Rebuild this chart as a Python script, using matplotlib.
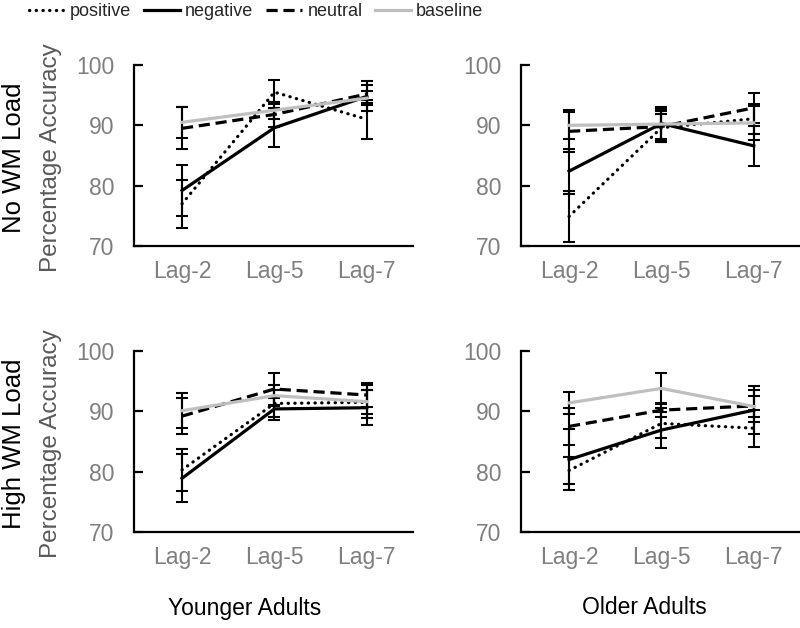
import matplotlib
matplotlib.use("Agg")
import matplotlib.pyplot as plt
from matplotlib.lines import Line2D

# categories and series (percentage accuracy)
lags = ["Lag-2", "Lag-5", "Lag-7"]
series_names = ["positive", "negative", "neutral", "baseline"]

# younger adults, no WM load
young_noload_mean = {
    "positive": [77.0, 95.5, 91.0],
    "negative": [79.2, 89.6, 94.8],
    "neutral": [89.5, 91.8, 95.2],
    "baseline": [90.5, 92.5, 94.5],
}
young_noload_err = {
    "positive": [4.0, 2.0, 3.2],
    "negative": [4.3, 3.2, 2.5],
    "neutral": [3.5, 2.0, 1.5],
    "baseline": [2.6, 1.4, 1.2],
}

# older adults, no WM load
old_noload_mean = {
    "positive": [74.9, 89.6, 91.1],
    "negative": [82.4, 90.3, 86.6],
    "neutral": [89.0, 89.8, 92.9],
    "baseline": [90.0, 90.2, 90.4],
}
old_noload_err = {
    "positive": [4.2, 2.3, 2.5],
    "negative": [3.7, 2.8, 3.3],
    "neutral": [3.5, 2.5, 2.5],
    "baseline": [2.2, 2.5, 2.8],
}

# younger adults, high WM load
young_load_mean = {
    "positive": [80.3, 91.3, 91.5],
    "negative": [78.9, 90.4, 90.6],
    "neutral": [89.2, 93.7, 92.7],
    "baseline": [90.1, 92.6, 91.6],
}
young_load_err = {
    "positive": [3.5, 2.3, 2.0],
    "negative": [4.0, 1.8, 2.9],
    "neutral": [3.0, 2.7, 2.0],
    "baseline": [2.9, 1.7, 2.7],
}

# older adults, high WM load
old_load_mean = {
    "positive": [80.2, 88.0, 87.2],
    "negative": [82.0, 86.9, 90.2],
    "neutral": [87.5, 90.2, 90.9],
    "baseline": [91.4, 93.8, 90.8],
}
old_load_err = {
    "positive": [2.2, 2.5, 3.1],
    "negative": [5.0, 3.0, 4.0],
    "neutral": [3.0, 1.2, 2.6],
    "baseline": [1.8, 2.6, 1.8],
}

y_ticks = [70, 80, 90, 100]
row_labels = ["No WM Load", "High WM Load"]
col_labels = ["Younger Adults", "Older Adults"]

plt.rcParams["font.family"] = ["Liberation Sans", "DejaVu Sans"]

STYLES = {
    "positive": dict(color="black", linestyle=(0, (0.1, 2.0)), dash_capstyle="round"),
    "negative": dict(color="black", linestyle="-"),
    "neutral": dict(color="black", linestyle=(0, (3.5, 1.8))),
    "baseline": dict(color="#BFBFBF", linestyle="-"),
}
LINE_W = 2.3


def draw_panel(ax, means, errs):
    x = list(range(len(lags)))
    for name in series_names:
        ax.errorbar(x, means[name], yerr=errs[name], ecolor="black",
                    elinewidth=1.5, capsize=4, capthick=1.5, lw=LINE_W,
                    **STYLES[name])
    ax.set_xlim(-0.52, 2.5)
    ax.set_ylim(70, 100)
    ax.set_yticks(y_ticks)
    ax.set_xticks(x)
    ax.set_xticklabels(lags)
    for side in ["top", "right"]:
        ax.spines[side].set_visible(False)
    for side in ["left", "bottom"]:
        ax.spines[side].set_linewidth(1.6)
    ax.tick_params(axis="y", direction="in", length=6.5, width=1.6,
                   pad=14, labelsize=16.5, labelcolor="#7F7F7F")
    ax.tick_params(axis="x", length=0, pad=10, labelsize=16.5,
                   labelcolor="#7F7F7F")


fig = plt.figure(figsize=(8, 6.28), dpi=100)

W, H = 800, 628
panels = [
    (134, 65, young_noload_mean, young_noload_err),
    (521, 65, old_noload_mean, old_noload_err),
    (134, 351, young_load_mean, young_load_err),
    (521, 351, old_load_mean, old_load_err),
]
for left, top, means, errs in panels:
    ax = fig.add_axes([left / W, 1 - (top + 181) / H, 279 / W, 181 / H])
    draw_panel(ax, means, errs)

for i, label in enumerate(row_labels):
    yc = 1 - (158 + 286 * i) / H
    fig.text(14 / W, yc, label, rotation=90, ha="center", va="center",
             fontsize=18.5, color="black")
    fig.text(51 / W, yc, "Percentage Accuracy", rotation=90, ha="center",
             va="center", fontsize=17.5, color="#595959")

fig.text(245 / W, 1 - 608 / H, col_labels[0], ha="center", va="center",
         fontsize=16.5, color="black")
fig.text(644 / W, 1 - 608 / H, col_labels[1], ha="center", va="center",
         fontsize=16.5, color="black")

# legend handles are plain lines (no error bar caps)
handles = [Line2D([], [], lw=LINE_W, **STYLES[name]) for name in series_names]
fig.legend(handles, series_names, ncol=4, loc="center left",
           bbox_to_anchor=(20 / W, 1 - 12 / H), frameon=False,
           fontsize=13, handlelength=2.0, handletextpad=0.28,
           columnspacing=0.7, borderpad=0, labelcolor="#262626")

fig.savefig("out.png", dpi=100)
